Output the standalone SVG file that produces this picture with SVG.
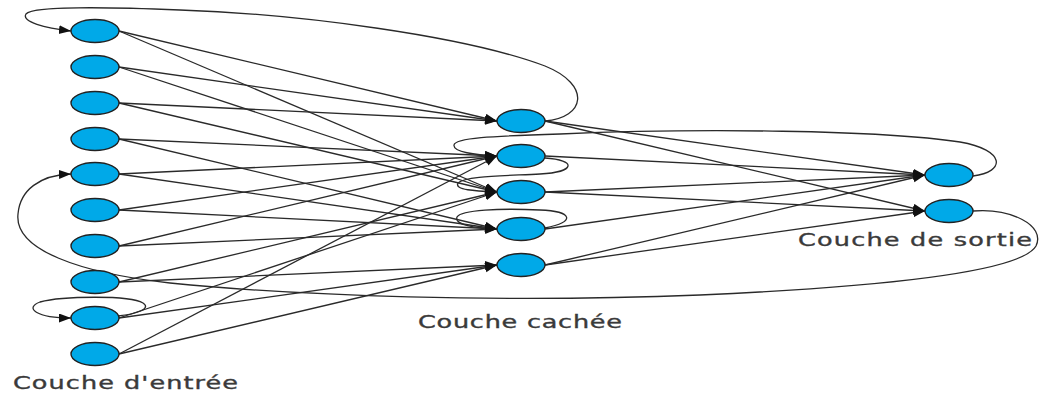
<svg xmlns="http://www.w3.org/2000/svg" width="1043" height="394" viewBox="0 0 1043 394">
  <style>
    .node { fill: #00a9e8; stroke: #222; stroke-width: 1.4; }
    .edge { fill: none; stroke: #2a2a2a; stroke-width: 1.3; marker-end: url(#arrow); }
    .label { font-family: "DejaVu Sans", "Liberation Sans", sans-serif; font-size: 17px; fill: #3a3a3a; stroke: #3a3a3a; stroke-width: 0.35; }
  </style>
  <defs>
    <marker id="arrow" markerUnits="userSpaceOnUse" markerWidth="13" markerHeight="10" refX="12" refY="4.5" orient="auto">
      <path d="M0,0 L12,4.5 L0,9 Z" fill="#111"/>
    </marker>
  </defs>
  <rect width="1043" height="394" fill="#fff"/>

  <g id="connectors">
    <!-- input layer to hidden layer -->
    <line class="edge" x1="119" y1="31" x2="497" y2="121"/>
    <line class="edge" x1="119" y1="31" x2="497" y2="192"/>
    <line class="edge" x1="119" y1="67" x2="497" y2="121"/>
    <line class="edge" x1="119" y1="67" x2="497" y2="192"/>
    <line class="edge" x1="119" y1="103" x2="497" y2="121"/>
    <line class="edge" x1="119" y1="103" x2="497" y2="192"/>
    <line class="edge" x1="119" y1="139" x2="497" y2="156"/>
    <line class="edge" x1="119" y1="139" x2="497" y2="229"/>
    <line class="edge" x1="119" y1="174" x2="497" y2="156"/>
    <line class="edge" x1="119" y1="174" x2="497" y2="229"/>
    <line class="edge" x1="119" y1="210" x2="497" y2="156"/>
    <line class="edge" x1="119" y1="210" x2="497" y2="229"/>
    <line class="edge" x1="119" y1="246" x2="497" y2="156"/>
    <line class="edge" x1="119" y1="246" x2="497" y2="229"/>
    <line class="edge" x1="119" y1="282" x2="497" y2="192"/>
    <line class="edge" x1="119" y1="282" x2="497" y2="265"/>
    <line class="edge" x1="119" y1="318" x2="497" y2="192"/>
    <line class="edge" x1="119" y1="318" x2="497" y2="265"/>
    <line class="edge" x1="119" y1="354" x2="497" y2="156"/>
    <line class="edge" x1="119" y1="354" x2="497" y2="265"/>

    <!-- hidden layer to output layer -->
    <line class="edge" x1="545" y1="121" x2="925" y2="175"/>
    <line class="edge" x1="545" y1="121" x2="925" y2="211"/>
    <line class="edge" x1="545" y1="156" x2="925" y2="175"/>
    <line class="edge" x1="545" y1="192" x2="925" y2="175"/>
    <line class="edge" x1="545" y1="192" x2="925" y2="211"/>
    <line class="edge" x1="545" y1="229" x2="925" y2="175"/>
    <line class="edge" x1="545" y1="265" x2="925" y2="175"/>
    <line class="edge" x1="545" y1="265" x2="925" y2="211"/>

    <!-- recurrent loops -->
    <path class="edge" d="M545,121 C585,118 592,85 545,66 C465,36 300,14 180,10 C110,7 32,6 26,14 C21,22 45,28 71,31"/>
    <path class="edge" d="M973,211 C1010,208 1046,225 1036,246 C1022,270 900,286 700,295 C500,303 300,296 170,283 C80,273 14,250 18,214 C20,190 40,175 71,174"/>
    <path class="edge" d="M118,316 C136,314 152,309 143,303 C130,295 62,296 40,302 C24,308 36,318 71,318"/>
    <path class="edge" d="M545,228 C577,222 572,211 540,210 C500,208 461,210 457,217 C454,225 475,228 497,229"/>
    <path class="edge" d="M545,158 C577,160 576,172 540,174 C500,176 465,176 458,183 C454,190 475,191 497,192"/>
    <path class="edge" d="M973,176 C1006,172 1006,150 960,142 C880,130 700,128 560,134 C490,136 455,138 454,145 C453,152 475,155 497,156"/>
  </g>

  <g id="input-layer">
    <g id="in1"><ellipse class="node" cx="95" cy="31" rx="24" ry="11.5"/></g>
    <g id="in2"><ellipse class="node" cx="95" cy="67" rx="24" ry="11.5"/></g>
    <g id="in3"><ellipse class="node" cx="95" cy="103" rx="24" ry="11.5"/></g>
    <g id="in4"><ellipse class="node" cx="95" cy="139" rx="24" ry="11.5"/></g>
    <g id="in5"><ellipse class="node" cx="95" cy="174" rx="24" ry="11.5"/></g>
    <g id="in6"><ellipse class="node" cx="95" cy="210" rx="24" ry="11.5"/></g>
    <g id="in7"><ellipse class="node" cx="95" cy="246" rx="24" ry="11.5"/></g>
    <g id="in8"><ellipse class="node" cx="95" cy="282" rx="24" ry="11.5"/></g>
    <g id="in9"><ellipse class="node" cx="95" cy="318" rx="24" ry="11.5"/></g>
    <g id="in10"><ellipse class="node" cx="95" cy="354" rx="24" ry="11.5"/></g>
  </g>

  <g id="hidden-layer">
    <g id="hid1"><ellipse class="node" cx="521" cy="121" rx="24" ry="11.5"/></g>
    <g id="hid2"><ellipse class="node" cx="521" cy="156" rx="24" ry="11.5"/></g>
    <g id="hid3"><ellipse class="node" cx="521" cy="192" rx="24" ry="11.5"/></g>
    <g id="hid4"><ellipse class="node" cx="521" cy="229" rx="24" ry="11.5"/></g>
    <g id="hid5"><ellipse class="node" cx="521" cy="265" rx="24" ry="11.5"/></g>
  </g>

  <g id="output-layer">
    <g id="out1"><ellipse class="node" cx="949" cy="175" rx="24" ry="11.5"/></g>
    <g id="out2"><ellipse class="node" cx="949" cy="211" rx="24" ry="11.5"/></g>
  </g>

  <g id="labels">
    <text class="label" transform="translate(13,389) scale(1.5,1)" textLength="150" lengthAdjust="spacing">Couche d'entrée</text>
    <text class="label" transform="translate(418,328) scale(1.5,1)" textLength="136" lengthAdjust="spacing">Couche cachée</text>
    <text class="label" transform="translate(798,246) scale(1.5,1)" textLength="156" lengthAdjust="spacing">Couche de sortie</text>
  </g>
</svg>
